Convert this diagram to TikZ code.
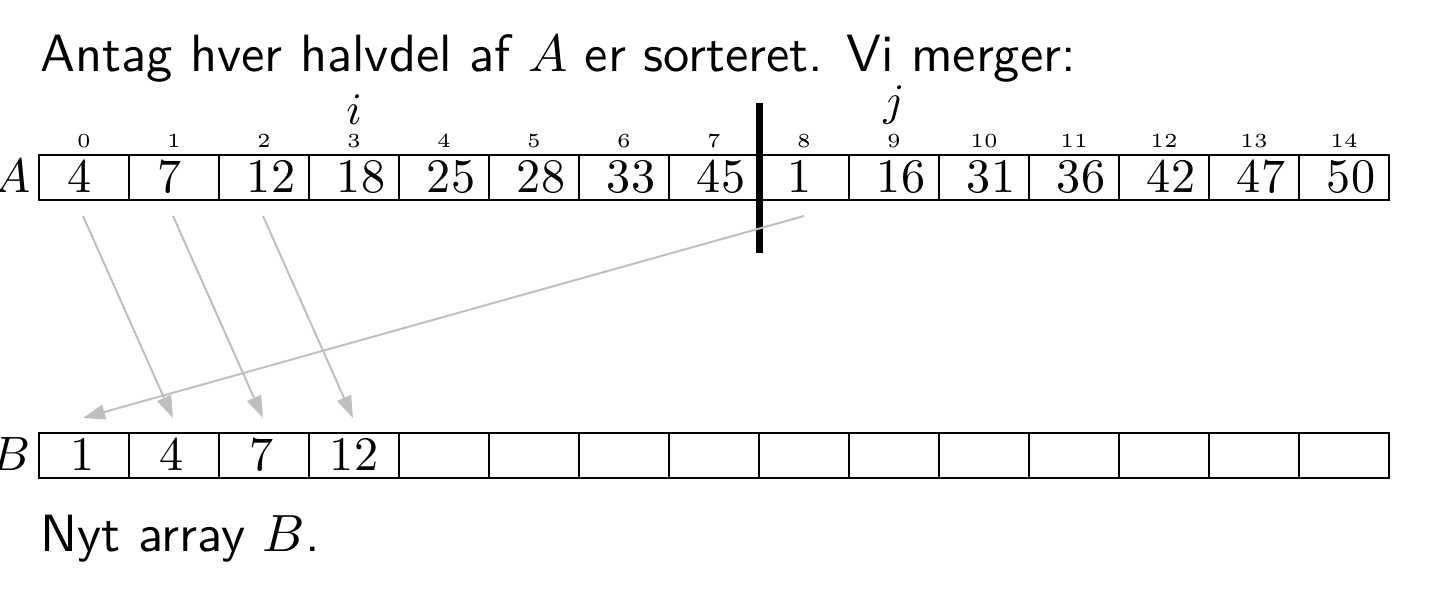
\documentclass[tikz,border=0pt]{standalone}
\usetikzlibrary{arrows.meta}
\newcommand\tsz[1]{\scalebox{2.62}{\sffamily\fontsize{10}{12}\selectfont #1}}
\newcommand\nsz[1]{\scalebox{2.41}{\fontsize{10}{12}\selectfont$#1$}}
\newcommand\isz[1]{\scalebox{2.0}{\fontsize{5}{6}\selectfont$#1$}}
\newcommand\psz[1]{\scalebox{2.25}{\fontsize{10}{12}\selectfont$#1$}}
\begin{document}
\begin{tikzpicture}[x=0.5pt,y=-0.5pt,
 cell/.style={draw,line width=1pt,minimum width=45pt,minimum height=22.5pt,inner sep=0pt},
 num/.style={inner sep=0pt,anchor=base},
 idx/.style={inner sep=0pt,anchor=base},
 ptr/.style={inner sep=0pt,anchor=south},
 arr/.style={draw=black!25,line width=1pt,-{Triangle[length=11pt,width=7.5pt]}},
 txt/.style={inner sep=0pt,anchor=base west},
 lbl/.style={inner sep=0pt,anchor=base east}]
\useasboundingbox (0,0) rectangle (1449,608);
\node[txt] (title) at (40,72) {\tsz{Antag hver halvdel af $A$ er sorteret. Vi merger:}};
\node[lbl] (Alab) at (31,193) {\nsz{A}};
\node[lbl] (Blab) at (31,471) {\nsz{B}};
\foreach \v [count=\k from 0] in {4,7,12,18,25,28,33,45,1,16,31,36,42,47,50} {
  \node[cell] (a\k) at ({84+90*\k},177.5) {};
  \ifnum\v>9
    \node[num] (av\k) at ({91+90*\k},193) {\nsz{\v}};
  \else
    \node[num] (av\k) at ({80+90*\k},193) {\nsz{\v}};
  \fi
  \node[idx] (ai\k) at ({84+90*\k},148) {\isz{\k}};
  \node[cell] (b\k) at ({84+90*\k},455.5) {};
}
\node[num] (bv0) at (83,471) {\nsz{1}};
\node[num] (bv1) at (172,471) {\nsz{4}};
\node[num] (bv2) at (262,471) {\nsz{7}};
\node[num] (bv3) at (354,471) {\nsz{12}};
\node[ptr] (pi) at (354,125) {\psz{i}};
\node[ptr] (pj) at (894,125) {\psz{j}};
\coordinate (bartop) at (759,103);
\coordinate (barbot) at (759,253);
\draw[line width=3.5pt] (bartop) -- (barbot);
\draw[arr] ([xshift=-0.5pt,yshift=-7.5pt]a0.south) -- ([xshift=-0.5pt,yshift=7pt]b1.north);
\draw[arr] ([xshift=-0.5pt,yshift=-7.5pt]a1.south) -- ([xshift=-0.5pt,yshift=7pt]b2.north);
\draw[arr] ([xshift=-0.5pt,yshift=-7.5pt]a2.south) -- ([xshift=-0.5pt,yshift=7pt]b3.north);
\draw[arr] ([yshift=-7.5pt]a8.south) -- ([xshift=-0.5pt,yshift=7pt]b0.north);
\node[txt] (nyt) at (40,551) {\tsz{Nyt array $B$.}};
\end{tikzpicture}
\end{document}
